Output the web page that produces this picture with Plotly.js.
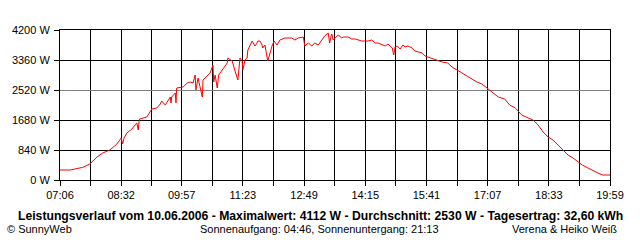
<!DOCTYPE html>
<html>
<head>
<meta charset="utf-8">
<script src="https://cdn.plot.ly/plotly-3.0.1.min.js"></script>
<style>html,body{margin:0;padding:0;background:#fff;}#chart{width:640px;height:240px;}</style>
</head>
<body>
<div id="chart"></div>
<script>
// Time of day (HH:MM) and measured power (W)
const times = ["07:06","07:20","07:27","07:38","07:48","07:58","08:06","08:16","08:26","08:32","08:34","08:36","08:40","08:47","08:54","08:56","08:57","08:58","09:08","09:15","09:22","09:27","09:29","09:34","09:41","09:42","09:43","09:48","09:49","09:50","09:59","10:05","10:09","10:13","10:16","10:17","10:20","10:26","10:27","10:30","10:37","10:41","10:42","10:44","10:47","10:49","10:51","10:55","11:01","11:02","11:08","11:12","11:15","11:16","11:19","11:22","11:23","11:26","11:29","11:30","11:36","11:40","11:43","11:44","11:47","11:50","11:51","11:54","11:58","12:01","12:04","12:07","12:11","12:15","12:22","12:32","12:36","12:41","12:48","12:50","12:55","13:00","13:04","13:09","13:14","13:18","13:23","13:25","13:27","13:28","13:30","13:37","13:42","13:44","13:51","13:56","14:01","14:05","14:10","14:15","14:19","14:24","14:29","14:33","14:39","14:43","14:47","14:53","14:55","14:57","15:00","15:04","15:08","15:11","15:15","15:21","15:25","15:29","15:35","15:39","15:43","15:53","16:03","16:11","16:17","16:24","16:31","16:38","16:45","16:52","16:59","17:08","17:15","17:22","17:31","17:38","17:46","17:55","18:04","18:11","18:18","18:25","18:32","18:39","18:46","18:53","19:00","19:07","19:14","19:20","19:28","19:38","19:45","19:49","19:59"];
const power = [280,280,308,355,448,644,756,840,1008,1176,1008,1176,1316,1428,1596,1400,1624,1708,1764,1988,2016,2128,2212,2100,2324,2156,2324,2436,2156,2576,2604,2716,2744,2716,2940,2520,2856,2324,2800,2856,2996,3220,2744,2940,2576,2940,2996,3080,3276,3416,3332,3052,2856,2800,3416,3332,3080,3360,3416,3640,3892,3752,3836,3892,3892,3780,3696,3780,3332,3556,3752,3892,3780,3920,3976,3976,3920,3976,4004,3752,3836,3752,3836,3780,3920,4032,4116,3836,4032,4088,3920,4060,3976,4004,4004,3948,3948,3920,3892,3892,3892,3920,3836,3836,3780,3752,3808,3696,3500,3724,3752,3668,3780,3724,3752,3696,3612,3584,3556,3472,3444,3388,3304,3276,3164,3080,2996,2912,2828,2744,2688,2548,2436,2324,2268,2100,2016,1820,1736,1680,1540,1344,1204,1120,980,840,700,616,504,420,336,224,168,140,140];

const xTickLabels = ["07:06","08:32","09:57","11:23","12:49","14:15","15:41","17:07","18:33","19:59"];
const yTickValues = [0,840,1680,2520,3360,4200];
const yTickLabels = ["0 W","840 W","1680 W","2520 W","3360 W","4200 W"];
const grayGridValue = 2520;  // line drawn in gray (near the 2530 W average)

const titleText = "Leistungsverlauf vom 10.06.2006 - Maximalwert: 4112 W - Durchschnitt: 2530 W - Tagesertrag: 32,60 kWh";
const copyrightText = "© SunnyWeb";
const sunText = "Sonnenaufgang: 04:46, Sonnenuntergang: 21:13";
const authorText = "Verena & Heiko Weiß";

function toMin(s){const p=s.split(":");return (+p[0])*60+(+p[1]);}

const xs = times.map(toMin);
const labelMins = xTickLabels.map(toMin);
const tickvals = [], ticktext = [];
labelMins.forEach((m,i)=>{
  tickvals.push(m); ticktext.push(xTickLabels[i]);
  if(i<labelMins.length-1){tickvals.push((m+labelMins[i+1])/2); ticktext.push("");}
});
const blackGridVals = yTickValues.filter(v => v !== grayGridValue);

const FONT = "Liberation Sans, Arial, sans-serif";
const yRange = [0, 4200];

const trace = {
  x: xs, y: power, type: "scatter", mode: "lines",
  line: {color: "#ff0000", width: 1},
  hoverinfo: "skip"
};

const gridAxis = (vals, color) => ({
  range: yRange, overlaying: "y", tickmode: "array", tickvals: vals,
  showgrid: true, gridcolor: color, gridwidth: 1,
  showticklabels: false, ticks: "", showline: false, zeroline: false, fixedrange: true
});

const layout = {
  width: 640, height: 240,
  margin: {l: 60, r: 30, t: 30, b: 60, pad: 0},
  paper_bgcolor: "#ffffff", plot_bgcolor: "#ffffff",
  showlegend: false,
  font: {family: FONT, size: 11, color: "#000"},
  xaxis: {
    range: [labelMins[0], labelMins[labelMins.length-1]],
    tickmode: "array", tickvals: tickvals, ticktext: ticktext,
    ticks: "outside", ticklen: 5, tickcolor: "#000", tickwidth: 1,
    showgrid: true, gridcolor: "#000", gridwidth: 1,
    showline: true, linecolor: "#000", linewidth: 1, mirror: true,
    zeroline: false, fixedrange: true,
    tickfont: {family: FONT, size: 11, color: "#000"}
  },
  yaxis: {
    range: yRange,
    tickmode: "array", tickvals: yTickValues, ticktext: yTickLabels,
    ticks: "outside", ticklen: 5, tickcolor: "#000", tickwidth: 1,
    ticklabelstandoff: 2,
    showgrid: false,
    showline: true, linecolor: "#000", linewidth: 1, mirror: true,
    zeroline: false, fixedrange: true,
    tickfont: {family: FONT, size: 11, color: "#000"}
  },
  yaxis2: gridAxis(blackGridVals, "#000000"),
  yaxis3: gridAxis([grayGridValue], "#808080"),
  annotations: [
    {text: "<b>"+titleText+"</b>", xref: "paper", yref: "paper", x: (320-60)/550, y: (180-216)/150,
     xanchor: "center", yanchor: "middle", showarrow: false, font: {family: FONT, size: 12.2, color: "#000"}},
    {text: copyrightText, xref: "paper", yref: "paper", x: (5-60)/550, y: (180-229)/150,
     xanchor: "left", yanchor: "middle", showarrow: false, font: {family: FONT, size: 11, color: "#000"}},
    {text: sunText, xref: "paper", yref: "paper", x: (319-60)/550, y: (180-229)/150,
     xanchor: "center", yanchor: "middle", showarrow: false, font: {family: FONT, size: 11, color: "#000"}},
    {text: authorText, xref: "paper", yref: "paper", x: (619-60)/550, y: (180-229)/150,
     xanchor: "right", yanchor: "middle", showarrow: false, font: {family: FONT, size: 11, color: "#000"}}
  ]
};

// invisible carrier traces so the overlay grid axes are drawn
const carrier2 = {x: [], y: [], yaxis: "y2", type: "scatter", mode: "lines", hoverinfo: "skip"};
const carrier3 = {x: [], y: [], yaxis: "y3", type: "scatter", mode: "lines", hoverinfo: "skip"};

Plotly.newPlot("chart", [carrier2, carrier3, trace], layout, {staticPlot: true, displayModeBar: false});
</script>
</body>
</html>
